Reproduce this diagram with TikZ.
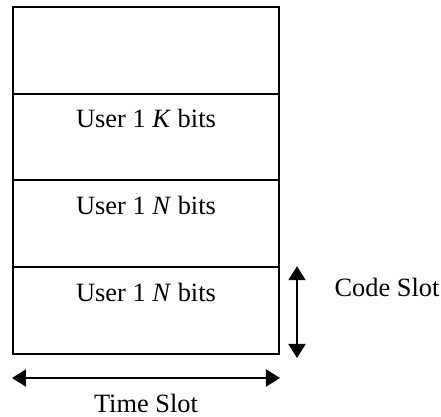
\documentclass[tikz,border=0pt]{standalone}
\usepackage{fontspec}
\setmainfont{Liberation Serif}
\usetikzlibrary{positioning,arrows.meta,calc}

\begin{document}
\begin{tikzpicture}[x=0.5pt,y=-0.5pt,
  slot/.style = {rectangle,draw,line width=1pt,minimum width=133pt,minimum height=43.4pt,inner sep=0pt},
  lbl/.style = {inner sep=0pt,font=\fontsize{13.2}{15}\selectfont},
  dbl/.style = {{Triangle[length=7pt,width=8.5pt]}-{Triangle[length=7pt,width=8.5pt]},line width=1pt}]

\useasboundingbox (0,0) rectangle (441,417);

\node[slot] (slot0) at (146, 50.4) {};
\node[slot] (slot1) at (146, 137.1) {};
\node[slot] (slot2) at (146, 223.9) {};
\node[slot] (slot3) at (146, 310.6) {};

\node[lbl] (txt1) at ($(slot1.north)+(0,26)$) {User 1 \textit{K} bits};
\node[lbl] (txt2) at ($(slot2.north)+(0,26)$) {User 1 \textit{N} bits};
\node[lbl] (txt3) at ($(slot3.north)+(0,26)$) {User 1 \textit{N} bits};

% code slot arrow
\coordinate (cs1) at ($(slot3.north east)+(17,0)$);
\coordinate (cs2) at ($(slot3.south east)+(17,3)$);
\draw[dbl] (cs1) -- (cs2);
\node[lbl] (codeslot) at (387, 287) {Code Slot};

% time slot arrow
\coordinate (ts1) at ($(slot3.south west)+(0,23)$);
\coordinate (ts2) at ($(slot3.south east)+(0,23)$);
\draw[dbl] (ts1) -- (ts2);
\node[lbl] (timeslot) at (146, 403) {Time Slot};

\end{tikzpicture}
\end{document}
